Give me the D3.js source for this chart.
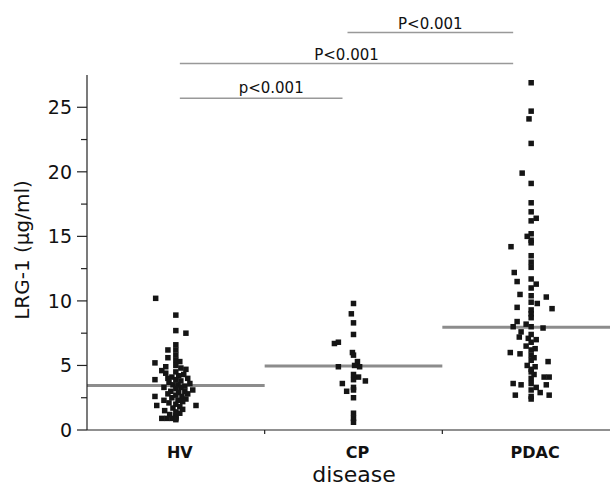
<!DOCTYPE html>
<html>
<head>
<meta charset="utf-8">
<script src="https://cdn.jsdelivr.net/npm/d3@7"></script>
<style>
  html, body { margin: 0; padding: 0; background: #fff; }
  svg { display: block; }
  text { font-family: "DejaVu Sans", sans-serif; fill: #111; }
</style>
</head>
<body>
<div id="chart"></div>
<script>
// ---- data ----
const categories = ["HV", "CP", "PDAC"];

// LRG-1 values (µg/ml), with horizontal jitter (−1..1)
const hvValues = [10.2, 8.9, 7.7, 7.5, 6.6, 6.2, 6.2, 5.8, 5.4, 5.2, 5.0, 4.9, 4.8, 4.6, 4.5, 4.4, 4.3, 4.2, 4.1, 4.0,
  3.9, 3.9, 3.8, 3.7, 3.6, 3.5, 3.5, 3.4, 3.3, 3.3, 3.2, 3.1, 3.0, 3.0, 2.9, 2.8, 2.8, 2.7, 2.6, 2.6,
  2.5, 2.4, 2.3, 2.3, 2.2, 2.1, 2.0, 1.9, 1.9, 1.8, 1.7, 1.6, 1.5, 1.4, 1.3, 1.2, 1.1, 1.0, 0.9, 0.9,
  0.9, 0.9, 0.8, 5.6, 5.3, 4.7, 4.0];
const hvJitter = [-0.56, 0, 0, 0.28, 0, -0.22, 0, 0, 0, -0.58, 0, -0.28, 0.14, -0.39, 0, -0.28, 0.22, 0.08, -0.11, 0.33,
  -0.58, 0, 0.14, -0.19, 0.39, 0.06, -0.08, 0.25, -0.33, 0.14, 0, 0.47, -0.14, 0.25, 0.08, -0.22, 0.33, 0, -0.58, 0.17,
  -0.11, 0.28, -0.33, 0.06, 0.19, -0.19, 0, -0.53, 0.56, 0.11, -0.08, 0.19, -0.31, 0, 0.11, -0.17, 0, 0, -0.39, -0.25,
  -0.11, 0, 0, -0.22, 0.11, 0.28, -0.22];

const cpValues = [9.8, 9.0, 8.3, 7.4, 6.7, 6.8, 6.0, 5.8, 5.3, 4.9, 5.0, 4.9, 4.3, 4.1, 3.8, 3.9, 3.6, 3.3, 3.0, 3.1,
  2.5, 1.3, 0.9, 0.6];
const cpJitter = [0, -0.06, 0, 0, -0.53, -0.42, -0.03, 0, 0.11, 0.17, 0.03, -0.42, 0, 0.14, 0.33, 0, -0.31, 0, -0.19, 0,
  0, 0, 0, 0];

const pdacValues = [26.9, 24.7, 24.1, 22.2, 19.9, 19.1, 17.6, 16.9, 16.4, 16.2, 15.2, 15.0, 14.7, 14.5, 14.2, 13.5, 13.0, 12.6, 12.2, 11.7,
  11.5, 11.3, 11.0, 10.5, 10.4, 10.3, 9.9, 9.8, 9.5, 9.4, 9.3, 9.0, 8.7, 8.4, 8.2, 8.0, 8.0, 7.9, 7.6, 7.4,
  7.2, 7.1, 7.0, 6.8, 6.5, 6.3, 6.2, 6.0, 5.9, 5.8, 5.6, 5.4, 5.3, 5.0, 4.9, 4.7, 4.5, 4.3, 4.1, 4.1,
  4.0, 3.6, 3.5, 3.5, 3.6, 3.3, 3.1, 2.9, 2.7, 2.7, 2.6, 2.4];
const pdacJitter = [0, 0, -0.06, 0, -0.25, 0, 0, 0, 0.14, 0, 0, -0.11, 0, 0, -0.56, 0, 0, 0, -0.47, 0,
  -0.39, 0.14, 0, -0.31, 0, 0.42, 0, 0.17, -0.39, 0.58, 0, 0, 0, -0.39, -0.14, -0.5, 0, 0.33, -0.28, 0,
  -0.33, -0.08, 0.14, 0, -0.14, 0.11, 0, -0.58, -0.31, 0, 0.08, 0, 0.47, -0.11, 0.11, 0, 0, 0.08, 0.36, 0.5,
  0, -0.5, -0.28, 0.42, 0, 0.14, 0, 0.25, -0.44, 0.5, 0, 0];

// group means drawn as horizontal bars
const meanValues = [3.45, 4.95, 7.95];

// significance brackets
const sigFrom = ["HV", "HV", "CP"];
const sigTo = ["CP", "PDAC", "PDAC"];
const sigLevel = [25.7, 28.4, 30.8];
const sigLabels = ["p<0.001", "P<0.001", "P<0.001"];

const yTicks = [0, 5, 10, 15, 20, 25];
const yMinorTicks = [2.5, 7.5, 12.5, 17.5, 22.5];

const yTitle = "LRG-1 (μg/ml)";
const xTitle = "disease";

// ---- chart ----
const W = 610, H = 488;
const svg = d3.select("#chart").append("svg").attr("width", W).attr("height", H);

const x = d3.scaleBand().domain(categories).range([87, 620]).padding(0);
const y = d3.scaleLinear().domain([0, 27.5]).range([430, 75]);
const jit = d3.scaleLinear().domain([-1, 1]).range([-36, 36]);

// mean lines
svg.append("g").selectAll("line").data(categories).join("line")
  .attr("x1", d => x(d))
  .attr("x2", d => Math.min(W, x(d) + x.bandwidth()))
  .attr("y1", (d, i) => y(meanValues[i]))
  .attr("y2", (d, i) => y(meanValues[i]))
  .attr("stroke", "#8c8c8c").attr("stroke-width", 3);

// points
const groups = [
  { cat: "HV", v: hvValues, j: hvJitter },
  { cat: "CP", v: cpValues, j: cpJitter },
  { cat: "PDAC", v: pdacValues, j: pdacJitter }
];
const pts = [];
groups.forEach(g => g.v.forEach((v, i) => pts.push({ cat: g.cat, v, j: g.j[i] })));
const S = 5.5;
svg.append("g").selectAll("rect").data(pts).join("rect")
  .attr("x", d => x(d.cat) + x.bandwidth() / 2 + jit(d.j) - S / 2)
  .attr("y", d => y(d.v) - S / 2)
  .attr("width", S).attr("height", S)
  .attr("fill", "#151515");

// y axis
const yAxis = svg.append("g").attr("transform", "translate(87,0)");
yAxis.append("line").attr("x1", 0).attr("x2", 0).attr("y1", y(27.5)).attr("y2", y(0))
  .attr("stroke", "#222").attr("stroke-width", 1.2);
yAxis.selectAll("line.major").data(yTicks).join("line").attr("class", "major")
  .attr("x1", -10).attr("x2", 0).attr("y1", d => y(d)).attr("y2", d => y(d))
  .attr("stroke", "#222").attr("stroke-width", 1.2);
yAxis.selectAll("line.minor").data(yMinorTicks).join("line").attr("class", "minor")
  .attr("x1", -6).attr("x2", 0).attr("y1", d => y(d)).attr("y2", d => y(d))
  .attr("stroke", "#222").attr("stroke-width", 1.2);
yAxis.selectAll("text").data(yTicks).join("text")
  .attr("x", -15).attr("y", d => y(d)).attr("dy", "0.36em")
  .attr("text-anchor", "end").attr("font-size", 19).text(d => d);

// x axis
const xAxis = svg.append("g");
xAxis.append("line").attr("x1", 87).attr("x2", W).attr("y1", y(0)).attr("y2", y(0))
  .attr("stroke", "#222").attr("stroke-width", 1.2);
xAxis.selectAll("line.tick").data(categories.slice(1)).join("line").attr("class", "tick")
  .attr("x1", d => x(d)).attr("x2", d => x(d)).attr("y1", y(0)).attr("y2", y(0) + 4)
  .attr("stroke", "#222").attr("stroke-width", 1.2);
xAxis.selectAll("text").data(categories).join("text")
  .attr("x", d => x(d) + x.bandwidth() / 2 + 4).attr("y", 458)
  .attr("text-anchor", "middle").attr("font-size", 16).attr("font-weight", "bold").text(d => d);

// titles
svg.append("text").attr("x", 354).attr("y", 482).attr("text-anchor", "middle")
  .attr("font-size", 22).text(xTitle);
svg.append("text").attr("transform", "translate(29,250) rotate(-90)").attr("text-anchor", "middle")
  .attr("font-size", 20).text(yTitle);

// significance brackets
const cx = c => x(c) + x.bandwidth() / 2;
const sig = sigLabels.map((t, i) => ({ t, a: sigFrom[i], b: sigTo[i], lv: sigLevel[i] }));
const sg = svg.append("g");
sg.selectAll("line").data(sig).join("line")
  .attr("x1", d => cx(d.a) + (d.a === "HV" ? 4 : -6))
  .attr("x2", d => cx(d.b) - (d.b === "CP" ? 11 : 18))
  .attr("y1", d => y(d.lv)).attr("y2", d => y(d.lv))
  .attr("stroke", "#999").attr("stroke-width", 1.5);
sg.selectAll("text").data(sig).join("text")
  .attr("x", d => {
    const a = cx(d.a) + (d.a === "HV" ? 4 : -6), b = cx(d.b) - (d.b === "CP" ? 11 : 18);
    return (a + b) / 2 + (d.b === "CP" ? 10 : 0);
  })
  .attr("y", (d, i) => y(d.lv) - (i === 0 ? 5 : 3))
  .attr("text-anchor", "middle").attr("font-size", 15).text(d => d.t);
</script>
</body>
</html>
